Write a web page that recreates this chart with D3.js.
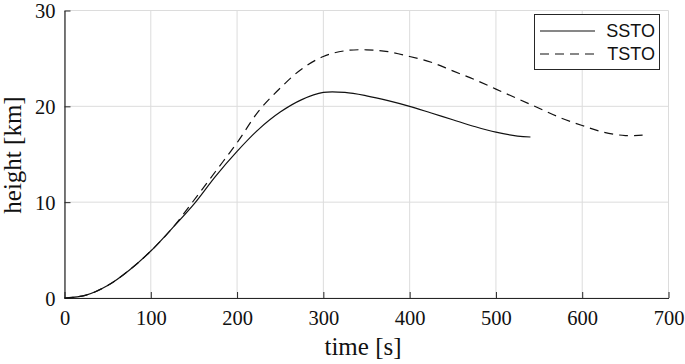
<!DOCTYPE html>
<html lang="en">
<head>
<meta charset="utf-8">
<title>height vs time</title>
<script src="https://cdn.jsdelivr.net/npm/d3@7"></script>
<style>
body { margin: 0; background: #fff; }
.tick text { font-family: "Liberation Serif", serif; font-size: 20.5px; fill: #111; }
.lbl { font-family: "Liberation Serif", serif; font-size: 25px; fill: #111; }
.leg text { font-family: "Liberation Sans", Arial, sans-serif; font-size: 18px; fill: #111; }
</style>
</head>
<body>
<script>
// time [s] and height [km]
var sstoT = [0, 25, 50, 75, 100, 125, 150, 175, 200, 225, 250, 275, 300, 325, 350, 375, 400, 425, 450, 475, 500, 525, 540];
var sstoH = [0, 0.3, 1.3, 2.9, 4.9, 7.3, 9.8, 12.7, 15.3, 17.6, 19.4, 20.7, 21.45, 21.45, 21.1, 20.6, 20.0, 19.3, 18.6, 17.9, 17.3, 16.9, 16.8];
var tstoT = [0, 25, 50, 75, 100, 125, 150, 175, 200, 225, 250, 275, 300, 325, 350, 375, 400, 425, 450, 475, 500, 525, 550, 575, 600, 625, 650, 670];
var tstoH = [0, 0.3, 1.3, 2.9, 4.9, 7.3, 10.2, 13.2, 16.2, 19.5, 21.9, 23.9, 25.2, 25.8, 25.9, 25.7, 25.2, 24.6, 23.7, 22.8, 21.8, 20.8, 19.8, 18.8, 18.0, 17.3, 16.95, 17.0];
var xTicks = [0, 100, 200, 300, 400, 500, 600, 700];
var yTicks = [0, 10, 20, 30];
var names = ["SSTO", "TSTO"];

var W = 685, H = 364;
var m = {l: 64.5, r: 16.5, t: 10.5, b: 66};
var svg = d3.select("body").append("svg").attr("width", W).attr("height", H);

var x = d3.scaleLinear().domain([0, 700]).range([m.l, W - m.r]);
var y = d3.scaleLinear().domain([0, 30]).range([H - m.b, m.t]);

// grid
var grid = svg.append("g");
grid.selectAll(".gx").data(xTicks).enter().append("line")
  .attr("x1", d => x(d)).attr("x2", d => x(d))
  .attr("y1", y(0)).attr("y2", y(30))
  .attr("stroke", "#dcdcdc").attr("stroke-width", 1);
grid.selectAll(".gy").data(yTicks).enter().append("line")
  .attr("x1", x(0)).attr("x2", x(700))
  .attr("y1", d => y(d)).attr("y2", d => y(d))
  .attr("stroke", "#dcdcdc").attr("stroke-width", 1);

// axes
var xa = svg.append("g").attr("transform", "translate(0," + y(0) + ")")
  .call(d3.axisBottom(x).tickValues(xTicks).tickSizeInner(-6).tickSizeOuter(0).tickPadding(12));
var ya = svg.append("g").attr("transform", "translate(" + x(0) + ",0)")
  .call(d3.axisLeft(y).tickValues(yTicks).tickSizeInner(-6).tickSizeOuter(0).tickPadding(9));
[xa, ya].forEach(function(a) {
  a.select(".domain").attr("stroke", "#262626").attr("stroke-width", 1.2);
  a.selectAll(".tick line").attr("stroke", "#262626");
});
ya.selectAll(".tick text").attr("dy", "0.35em");

// curves
var line = d3.line().x(d => x(d[0])).y(d => y(d[1])).curve(d3.curveCatmullRom.alpha(0.5));
svg.append("path").datum(d3.zip(sstoT, sstoH)).attr("d", line)
  .attr("fill", "none").attr("stroke", "#111").attr("stroke-width", 1.2);
svg.append("path").datum(d3.zip(tstoT, tstoH)).attr("d", line)
  .attr("fill", "none").attr("stroke", "#111").attr("stroke-width", 1.2)
  .attr("stroke-dasharray", "9,6");

// labels
svg.append("text").attr("class", "lbl").attr("text-anchor", "middle")
  .attr("x", 363).attr("y", 355).text("time [s]");
svg.append("text").attr("class", "lbl").attr("text-anchor", "middle")
  .attr("transform", "translate(21,155) rotate(-90)").text("height [km]");

// legend
var leg = svg.append("g").attr("class", "leg");
leg.append("rect").attr("x", 534.5).attr("y", 14.5).attr("width", 125).attr("height", 55)
  .attr("fill", "#fff").attr("stroke", "#262626").attr("stroke-width", 1);
names.forEach(function(n, i) {
  var yy = 31 + i * 23;
  leg.append("line").attr("x1", 540).attr("x2", 595).attr("y1", yy).attr("y2", yy)
    .attr("stroke", "#111").attr("stroke-width", 1.2)
    .attr("stroke-dasharray", i ? "9,6" : null);
  leg.append("text").attr("x", 655).attr("y", yy).attr("dy", "0.36em")
    .attr("text-anchor", "end").text(n);
});
</script>
</body>
</html>
